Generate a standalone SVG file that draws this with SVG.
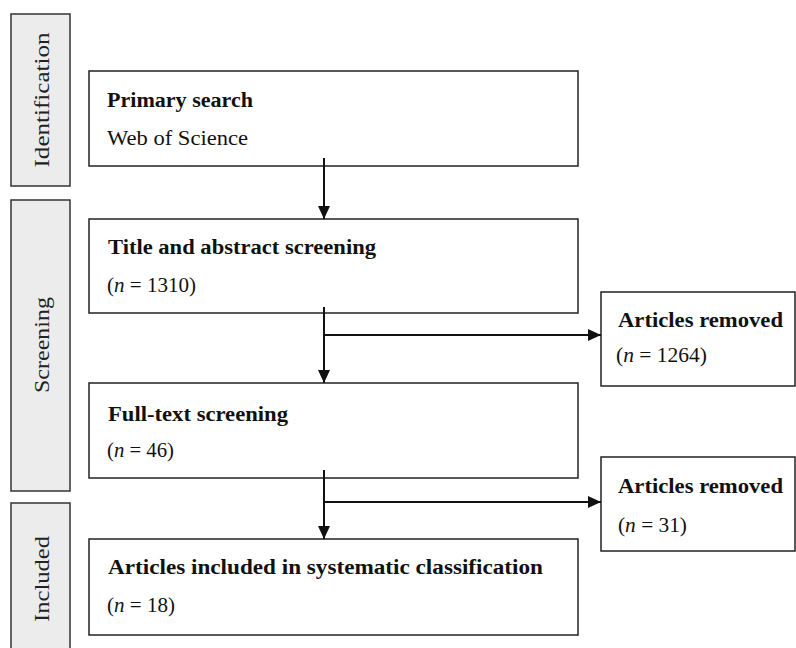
<svg xmlns="http://www.w3.org/2000/svg" width="796" height="648" viewBox="0 0 796 648">
<style>
.side{fill:#ececec;stroke:#333;stroke-width:1.5}
.box{fill:#fff;stroke:#222;stroke-width:1.5}
.st{font-family:"Liberation Serif","DejaVu Serif",serif;font-size:22px;fill:#222;text-anchor:middle}
.b{font-family:"Liberation Serif","DejaVu Serif",serif;font-size:20px;font-weight:bold;fill:#111}
.t{font-family:"Liberation Serif","DejaVu Serif",serif;font-size:20px;fill:#111}
.c{stroke:#111;stroke-width:2;fill:none}
</style>
<defs>
<marker id="ah" markerUnits="userSpaceOnUse" markerWidth="14" markerHeight="14" viewBox="0 0 14 14" refX="13" refY="7" orient="auto">
<path d="M0,1 L13,7 L0,13 Z" fill="#111"/>
</marker>
</defs>
<rect width="796" height="648" fill="#fff"/>
<g id="phase-identification">
<rect class="side" x="11" y="14" width="59" height="172"/>
<text class="st" transform="translate(49,100) rotate(-90)" textLength="135" lengthAdjust="spacingAndGlyphs">Identification</text>
</g>
<g id="phase-screening">
<rect class="side" x="11" y="200" width="59" height="291"/>
<text class="st" transform="translate(49,345) rotate(-90)" textLength="96" lengthAdjust="spacingAndGlyphs">Screening</text>
</g>
<g id="phase-included">
<rect class="side" x="11" y="503" width="59" height="160"/>
<text class="st" transform="translate(49,579) rotate(-90)" textLength="86" lengthAdjust="spacingAndGlyphs">Included</text>
</g>
<g id="primary-search">
<rect class="box" x="89" y="71" width="489" height="95"/>
<text class="b" x="107" y="107" textLength="146" lengthAdjust="spacingAndGlyphs">Primary search</text>
<text class="t" x="107" y="145" textLength="141" lengthAdjust="spacingAndGlyphs">Web of Science</text>
</g>
<g id="title-abstract">
<rect class="box" x="89" y="219" width="489" height="94"/>
<text class="b" x="108" y="254" textLength="268" lengthAdjust="spacingAndGlyphs">Title and abstract screening</text>
<text class="t" x="107" y="292" textLength="89" lengthAdjust="spacingAndGlyphs">(<tspan font-style="italic">n</tspan> = 1310)</text>
</g>
<g id="removed-1">
<rect class="box" x="601" y="292" width="194" height="94"/>
<text class="b" x="618" y="327" textLength="165" lengthAdjust="spacingAndGlyphs">Articles removed</text>
<text class="t" x="616" y="362" textLength="91" lengthAdjust="spacingAndGlyphs">(<tspan font-style="italic">n</tspan> = 1264)</text>
</g>
<g id="full-text">
<rect class="box" x="89" y="383" width="489" height="95"/>
<text class="b" x="108" y="421" textLength="180" lengthAdjust="spacingAndGlyphs">Full-text screening</text>
<text class="t" x="107" y="457" textLength="67" lengthAdjust="spacingAndGlyphs">(<tspan font-style="italic">n</tspan> = 46)</text>
</g>
<g id="removed-2">
<rect class="box" x="601" y="457" width="194" height="94"/>
<text class="b" x="618" y="493" textLength="165" lengthAdjust="spacingAndGlyphs">Articles removed</text>
<text class="t" x="618" y="532" textLength="69" lengthAdjust="spacingAndGlyphs">(<tspan font-style="italic">n</tspan> = 31)</text>
</g>
<g id="included">
<rect class="box" x="89" y="539" width="489" height="96"/>
<text class="b" x="108" y="574" textLength="435" lengthAdjust="spacingAndGlyphs">Articles included in systematic classification</text>
<text class="t" x="107" y="612" textLength="68" lengthAdjust="spacingAndGlyphs">(<tspan font-style="italic">n</tspan> = 18)</text>
</g>
<g id="connectors">
<line class="c" x1="324" y1="158" x2="324" y2="219" marker-end="url(#ah)"/>
<line class="c" x1="324" y1="307" x2="324" y2="383" marker-end="url(#ah)"/>
<line class="c" x1="324" y1="335" x2="601" y2="335" marker-end="url(#ah)"/>
<line class="c" x1="324" y1="470" x2="324" y2="539" marker-end="url(#ah)"/>
<line class="c" x1="324" y1="502" x2="601" y2="502" marker-end="url(#ah)"/>
</g>
</svg>
